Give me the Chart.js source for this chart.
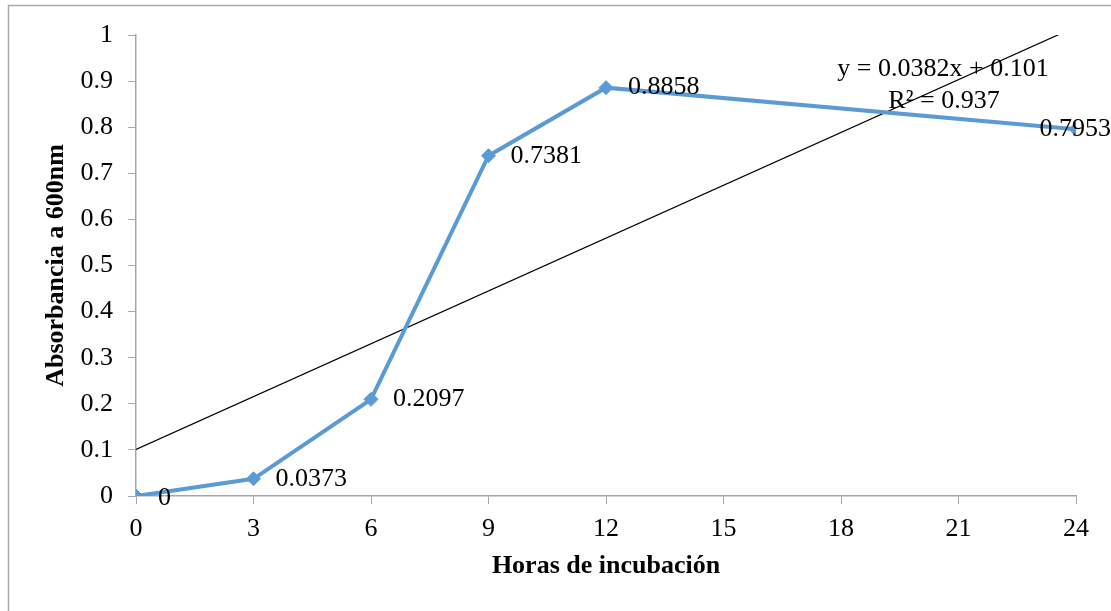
<!DOCTYPE html>
<html>
<head>
<meta charset="utf-8">
<script src="https://cdn.jsdelivr.net/npm/chart.js@4"></script>
<style>
	html, body { margin: 0; padding: 0; background: #fff; }
	#wrap { width: 1111px; height: 611px; position: relative; }
</style>
</head>
<body>
<div id="wrap"><canvas id="c" width="1111" height="611"></canvas></div>
<script>
const hours = [0, 3, 6, 9, 12, 24];
const absorbance = [0, 0.0373, 0.2097, 0.7381, 0.8858, 0.7953];
const pointLabels = ['0', '0.0373', '0.2097', '0.7381', '0.8858', '0.7953'];
const trendX = [0, 24];
const trendY = [0.101, 1.0178];
const equationLines = ['y = 0.0382x + 0.101', 'R² = 0.937'];
const xTitle = 'Horas de incubación';
const yTitle = 'Absorbancia a 600nm';

const serif = "'Liberation Serif', 'Times New Roman', serif";
const axisGray = '#a6a6a6';
const blue = '#5b9bd5';
const fs = 26;

const framePlugin = {
	id: 'frame',
	beforeDraw(chart) {
		const ctx = chart.ctx;
		ctx.save();
		ctx.fillStyle = '#fff';
		ctx.fillRect(0, 0, chart.width, chart.height);
		ctx.strokeStyle = '#aaaaaa';
		ctx.lineWidth = 1.5;
		ctx.strokeRect(8.5, 5.5, 2000, 2000);
		ctx.restore();
	}
};

const labelPlugin = {
	id: 'labels',
	afterDatasetsDraw(chart) {
		const ctx = chart.ctx;
		const xs = chart.scales.x, ys = chart.scales.y;
		ctx.save();
		ctx.font = fs + 'px ' + serif;
		ctx.fillStyle = '#000';
		ctx.textBaseline = 'middle';
		ctx.textAlign = 'left';
		hours.forEach((h, i) => {
			let px = xs.getPixelForValue(h) + 22;
			const py = ys.getPixelForValue(absorbance[i]) + (i === 0 ? 2 : 0);
			const w = ctx.measureText(pointLabels[i]).width;
			if (px + w > chart.width) px = chart.width - w;
			ctx.fillText(pointLabels[i], px, py);
		});
		ctx.textAlign = 'center';
		ctx.fillText(equationLines[0], 943, 69);
		ctx.fillText(equationLines[1], 944, 101);
		ctx.restore();
	}
};

new Chart(document.getElementById('c'), {
	type: 'scatter',
	data: {
		datasets: [
			{
				data: hours.map((h, i) => ({ x: h, y: absorbance[i] })),
				showLine: true,
				borderColor: blue,
				backgroundColor: blue,
				borderWidth: 4,
				pointStyle: 'rectRot',
				pointRadius: 7,
				pointHoverRadius: 7,
				pointBorderWidth: 1,
				order: 1,
			},
			{
				data: trendX.map((x, i) => ({ x, y: trendY[i] })),
				showLine: true,
				borderColor: '#000',
				borderWidth: 1.2,
				pointRadius: 0,
				order: 2,
			},
		]
	},
	options: {
		responsive: false,
		animation: false,
		events: [],
		layout: { padding: { top: 35, right: 35, left: 0, bottom: 0 } },
		plugins: { legend: { display: false }, tooltip: { enabled: false } },
		scales: {
			x: {
				type: 'linear',
				min: 0, max: 24,
				ticks: { stepSize: 3, padding: 10, color: '#000', font: { family: serif, size: fs }, maxRotation: 0 },
				grid: { drawOnChartArea: false, drawTicks: true, tickLength: 8, color: axisGray },
				border: { color: axisGray, width: 1.5 },
				title: { display: true, text: xTitle, color: '#000', font: { family: serif, size: fs, weight: 'bold' }, padding: { top: 0, bottom: 29 } },
				afterFit(s) { s.height = 115; },
			},
			y: {
				min: 0, max: 1,
				ticks: {
					stepSize: 0.1, padding: 15, color: '#000', font: { family: serif, size: fs },
					callback: v => String(Math.round(v * 10) / 10),
				},
				grid: { drawOnChartArea: false, drawTicks: true, tickLength: 8, color: axisGray },
				border: { color: axisGray, width: 1.5 },
				title: { display: true, text: yTitle, color: '#000', font: { family: serif, size: fs, weight: 'bold' }, padding: { top: 41, bottom: 0 } },
				afterFit(s) { s.width = 136; },
			}
		}
	},
	plugins: [framePlugin, labelPlugin]
});
</script>
</body>
</html>
